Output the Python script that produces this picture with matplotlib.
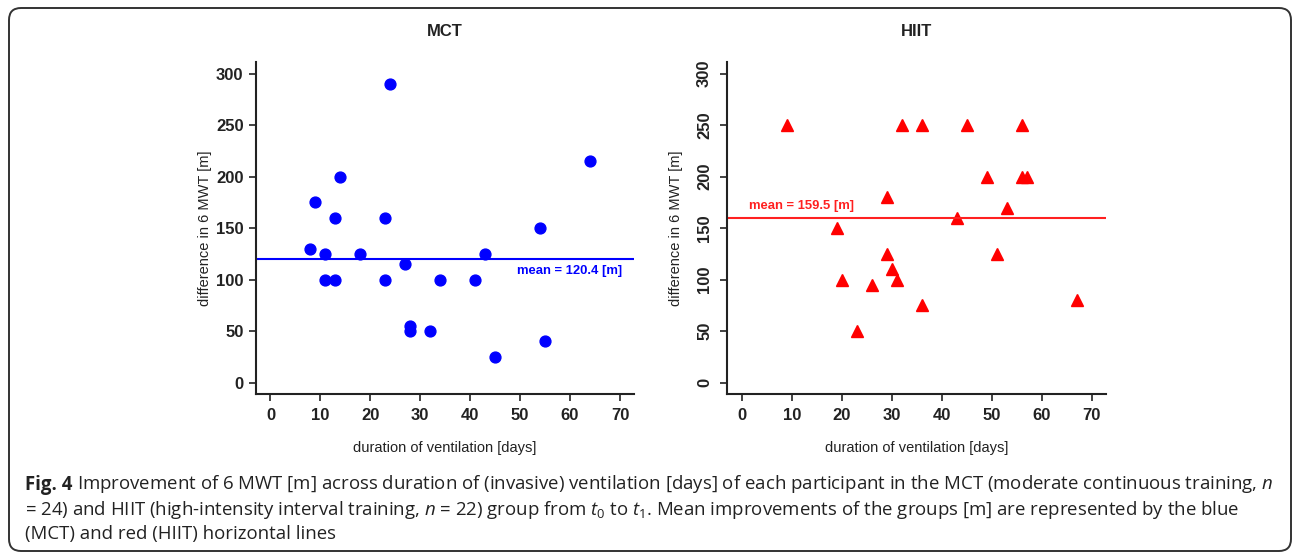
import numpy as np
import matplotlib
matplotlib.use("Agg")
import matplotlib.pyplot as plt
from matplotlib.patches import FancyBboxPatch

plt.rcParams['font.family'] = ['Liberation Sans', 'DejaVu Sans']
plt.rcParams['mathtext.fontset'] = 'custom'
plt.rcParams['mathtext.rm'] = 'Open Sans'
plt.rcParams['mathtext.it'] = 'Open Sans:italic'
plt.rcParams['mathtext.bf'] = 'Open Sans:bold'

# MCT group: duration of ventilation [days] vs difference in 6 MWT [m]
mct_days = [8, 9, 11, 11, 13, 13, 14, 18, 23, 23, 24, 27, 28, 28, 32, 34, 41, 43, 45, 54, 55, 64]
mct_diff = [130, 175, 125, 100, 160, 100, 200, 125, 160, 100, 290, 115, 55, 50, 50, 100, 100, 125, 25, 150, 40, 215]
mct_mean = 120.4

# HIIT group
hiit_days = [9, 19, 20, 23, 26, 29, 29, 30, 31, 32, 36, 36, 43, 45, 49, 51, 53, 56, 56, 57, 67]
hiit_diff = [250, 150, 100, 50, 95, 180, 125, 110, 100, 250, 250, 75, 160, 250, 200, 125, 170, 250, 200, 200, 80]
hiit_mean = 159.5

xticks = [0, 10, 20, 30, 40, 50, 60, 70]
yticks = [0, 50, 100, 150, 200, 250, 300]

fig = plt.figure(figsize=(12.93, 5.53), dpi=100)

def style_axes(ax, rotate_y):
    ax.set_xlim(-2.9, 72.8)
    ax.set_ylim(-11, 311.4)
    ax.set_xticks(xticks)
    ax.set_yticks(yticks)
    for s in ['top', 'right']:
        ax.spines[s].set_visible(False)
    for s in ['left', 'bottom']:
        ax.spines[s].set_linewidth(1.5)
        ax.spines[s].set_color('#222222')
    ax.tick_params(axis='both', length=5, width=1.2, color='#222222', labelsize=12, labelcolor='#222222')
    ax.tick_params(axis='x', pad=5)
    if rotate_y:
        ax.tick_params(axis='y', pad=6)
        for lab in ax.get_yticklabels():
            lab.set_rotation(90)
            lab.set_va('center')
    else:
        ax.tick_params(axis='y', pad=4)
    for lab in ax.get_xticklabels() + ax.get_yticklabels():
        lab.set_fontweight('bold')
    ax.set_xlabel('duration of ventilation [days]', fontsize=10.5, color='#222222')
    ax.set_ylabel('difference in 6 MWT [m]', fontsize=10.5, color='#222222')
    ax.xaxis.set_label_coords(0.5, -0.163)
    ax.yaxis.set_label_coords(-0.135, 0.5)
    ax.xaxis.label.set_va('center')
    ax.yaxis.label.set_va('center')

# left: MCT
ax1 = fig.add_axes([0.198, 0.2875, 0.2923, 0.6004])
ax1.plot(mct_days, mct_diff, 'o', color='#0000ff', markersize=7.8, clip_on=False)
ax1.axhline(mct_mean, color='#0000ff', lw=1.5)
ax1.text(60, 108, 'mean = %.1f [m]' % mct_mean, color='#0000ff', fontsize=9.4,
         fontweight='bold', ha='center', va='center')
style_axes(ax1, False)
fig.text(445 / 1293, 1 - 32 / 553, 'MCT', ha='center', va='center', fontsize=12, fontweight='bold', color='#222222')

# right: HIIT
ax2 = fig.add_axes([0.5625, 0.2875, 0.2927, 0.6004])
ax2.plot(hiit_days, hiit_diff, '^', color='#ff0000', markersize=9.2, clip_on=False)
ax2.axhline(hiit_mean, color='#ff2020', lw=1.5)
ax2.text(12, 172, 'mean = %.1f [m]' % hiit_mean, color='#ff2020', fontsize=9.4,
         fontweight='bold', ha='center', va='center')
style_axes(ax2, True)
fig.text(916 / 1293, 1 - 32 / 553, 'HIIT', ha='center', va='center', fontsize=12, fontweight='bold', color='#222222')

# rounded frame
box = FancyBboxPatch((0.09, 0.02), 12.82, 5.43, boxstyle='round,pad=0,rounding_size=0.12',
                     transform=fig.dpi_scale_trans, fill=False, ec='#333333', lw=1.4)
fig.patches.append(box)

# caption
capfont = dict(fontsize=13.4, family=['Open Sans', 'DejaVu Sans'], color='#222222')
head = fig.text(25 / 1293, 1 - 495 / 553, 'Fig. 4', ha='left', va='bottom', fontweight='bold', **capfont)
cap = [
    r'Improvement of 6 MWT [m] across duration of (invasive) ventilation [days] of each participant in the MCT (moderate continuous training, $\mathit{n}$',
    r'= 24) and HIIT (high-intensity interval training, $\mathit{n}$ = 22) group from $\mathit{t}_0$ to $\mathit{t}_1$. Mean improvements of the groups [m] are represented by the blue',
    r'(MCT) and red (HIIT) horizontal lines',
]
ax1.annotate(cap[0], xy=(1, 0), xycoords=head, xytext=(3.5, 0), textcoords='offset points',
             ha='left', va='bottom', annotation_clip=False, **capfont)
for i, line in enumerate(cap[1:]):
    fig.text(25 / 1293, 1 - (510 + 24 * i) / 553, line, ha='left', va='center', **capfont)

fig.savefig('out.png', dpi=100)
